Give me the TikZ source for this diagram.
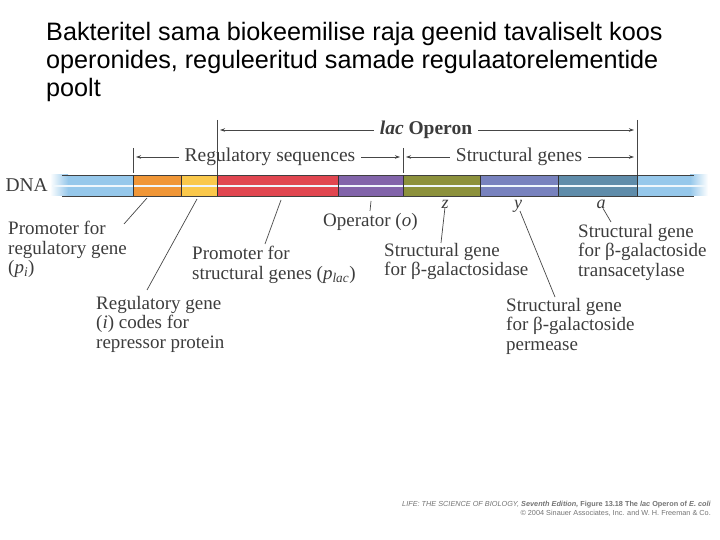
\documentclass[tikz,border=0pt]{standalone}
\usepackage{fontspec}
\setmainfont{Liberation Serif}
\newfontfamily\headfont{Liberation Sans}
\newfontfamily\notefont{Liberation Sans}
\usepackage{tikz}
\usetikzlibrary{arrows.meta}
\definecolor{dnablue}{RGB}{150, 200, 235}
\definecolor{proorange}{RGB}{240, 150, 55}
\definecolor{genyellow}{RGB}{250, 200, 75}
\definecolor{prored}{RGB}{225, 70, 80}
\definecolor{oppurple}{RGB}{130, 100, 170}
\definecolor{zolive}{RGB}{140, 145, 60}
\definecolor{yblue}{RGB}{120, 130, 190}
\definecolor{asteel}{RGB}{95, 140, 170}
\definecolor{labelgray}{RGB}{60, 60, 60}
\definecolor{linegray}{RGB}{70, 70, 70}

\begin{document}
\begin{tikzpicture}[x=1pt, y=-1pt, >={Stealth[length=5pt, width=3.5pt]},
   lbl/.style={anchor=north west, align=left, inner sep=0pt, text=labelgray,
     font=\fontsize{19}{19.5}\selectfont},
   row/.style={anchor=base, inner sep=0pt, inner xsep=6pt, text=labelgray,
     font=\fontsize{19.5}{20}\selectfont},
   gene/.style={anchor=base, inner sep=0pt, text=labelgray,
     font=\fontsize{18}{19}\selectfont\itshape},
   lead/.style={draw=linegray, line width=0.7pt},
   tick/.style={draw=linegray, line width=0.8pt}]
  \useasboundingbox (0,0) rectangle (720,540);
  % title
  \node[anchor=north west, align=left, inner sep=0pt, font=\headfont\fontsize{25.2}{28}\selectfont] (title) at (46,22)
    {Bakteritel sama biokeemilise raja geenid tavaliselt koos\\operonides, reguleeritud samade regulaatorelementide\\poolt};
  % DNA bar
  \shade[left color=white, right color=dnablue] (50,175) rectangle (68,196);
  \shade[left color=dnablue, right color=white] (690,175) rectangle (708,196);
  \foreach \a/\b/\c in {68/133/dnablue, 133/181/proorange, 181/217/genyellow, 217/338/prored,
      338/403/oppurple, 403/480/zolive, 480/558/yblue, 558/637/asteel, 637/690/dnablue}
    \fill[\c] (\a,175) rectangle (\b,196);
  \draw[white!85!dnablue, line width=2pt] (52,186) -- (706,186);
  \draw[black!75, line width=0.6pt] (62,175) -- (694,175) (62,196) -- (694,196);
  \foreach \x in {133,181,217,338,403,480,558,637}
    \draw[black!80, line width=0.6pt] (\x,175) -- (\x,196);
  \node[anchor=base east, inner sep=0pt, text=labelgray, font=\fontsize{19.5}{20}\selectfont] (dna) at (48,192) {DNA};
  % brackets above the bar
  \coordinate (b1) at (133,148); \coordinate (b2) at (217,120);
  \coordinate (b3) at (403,148); \coordinate (b4) at (637,120);
  \draw[tick] (b1) -- ++(0,25); \draw[tick] (b2) -- ++(0,55);
  \draw[tick] (b3) -- ++(0,25); \draw[tick] (b4) -- ++(0,55);
  \coordinate (lacrow) at (0,130); \coordinate (regrow) at (0,157);
  \node[row] (lacop) at (426,135) {\textbf{\textit{lac} Operon}};
  \node[row] (regseq) at (270,162) {Regulatory sequences};
  \node[row] (strgen) at (519,162) {Structural genes};
  \draw[lead, ->, shorten >=3pt] (lacop.west |- lacrow) -- (b2 |- lacrow);
  \draw[lead, ->, shorten >=3pt] (lacop.east |- lacrow) -- (b4 |- lacrow);
  \draw[lead, ->, shorten >=3pt] (regseq.west |- regrow) -- (b1 |- regrow);
  \draw[lead, ->, shorten >=3pt] (regseq.east |- regrow) -- (b3 |- regrow);
  \draw[lead, ->, shorten >=3pt] (strgen.west |- regrow) -- (b3 |- regrow);
  \draw[lead, ->, shorten >=3pt] (strgen.east |- regrow) -- (b4 |- regrow);
  % gene letters
  \node[gene] (zg) at (445,209) {z};
  \node[gene] (yg) at (518,208) {y};
  \node[gene] (ag) at (601,209) {a};
  % labels below the bar
  \node[lbl] (pilbl) at (8,221) {Promoter for\\regulatory gene\\(\textit{p}\textsubscript{\textit{i}})};
  \node[lbl] (ilbl) at (96,296) {Regulatory gene\\(\textit{i}) codes for\\repressor protein};
  \node[lbl] (placlbl) at (192,246) {Promoter for\\structural genes (\textit{p}\textsubscript{\textit{lac}})};
  \node[lbl] (oplbl) at (323,213) {Operator (\textit{o})};
  \node[lbl] (zlbl) at (384,243) {Structural gene\\for β-galactosidase};
  \node[lbl] (ylbl) at (506,298) {Structural gene\\for β-galactoside\\permease};
  \node[lbl] (albl) at (578,224) {Structural gene\\for β-galactoside\\transacetylase};
  % leaders
  \coordinate (pitop) at (147,198); \coordinate (piend) at (124,224);
  \coordinate (itop) at (197,199); \coordinate (iend) at (147,290);
  \coordinate (platop) at (281,200); \coordinate (plaend) at (265,244);
  \coordinate (optop) at (371,201); \coordinate (opend) at (370,211);
  \coordinate (zend) at (441,243); \coordinate (yend) at (555,297);
  \coordinate (aend) at (611,222);
  \draw[lead] (pitop) -- (piend);
  \draw[lead] (itop) -- (iend);
  \draw[lead] (platop) -- (plaend);
  \draw[lead] (optop) -- (opend);
  \draw[lead] ([yshift=2pt]zg.south) -- (zend);
  \draw[lead] ([xshift=2pt, yshift=1pt]yg.south) -- (yend);
  \draw[lead] ([xshift=2pt, yshift=1pt]ag.south) -- (aend);
  % credit line
  \node[anchor=north east, align=right, inner sep=0pt, text=black!55, font=\notefont\fontsize{7.3}{9}\selectfont] (credit) at (711,501)
    {\textit{LIFE: THE SCIENCE OF BIOLOGY,} \textbf{\textit{Seventh Edition,}} \textbf{Figure 13.18 The} \textbf{\textit{lac}} \textbf{Operon of} \textbf{\textit{E. coli}}\\
     © 2004 Sinauer Associates, Inc. and W. H. Freeman \& Co.};
\end{tikzpicture}
\end{document}
